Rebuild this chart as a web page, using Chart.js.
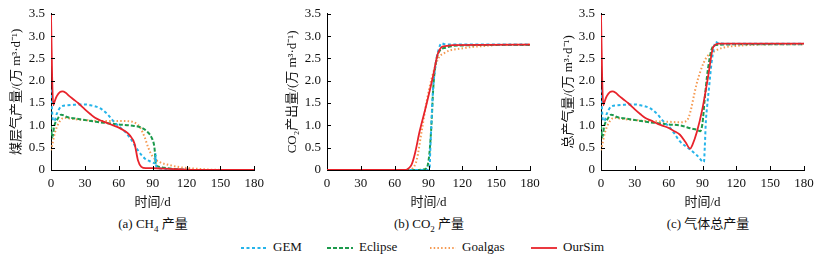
<!DOCTYPE html>
<html><head><meta charset="utf-8">
<script src="https://cdn.jsdelivr.net/npm/chart.js@4"></script>
<style>
body{margin:0;background:#fff;width:828px;height:262px;overflow:hidden;position:relative;font-family:"Liberation Serif","Noto Sans CJK SC",serif;color:#111;}
canvas{position:absolute;top:0;}
.cap{position:absolute;top:213px;font-size:13px;text-align:center;width:200px;white-space:nowrap;}
.cap sub{font-size:9px;}
#legend{position:absolute;top:238px;left:0;width:828px;height:18px;font-size:13px;}
.li{position:absolute;top:0;height:18px;line-height:18px;white-space:nowrap;}
.li svg{vertical-align:middle;margin-right:6px;}
</style></head><body>
<canvas id="c1" style="left:0px" width="270" height="210"></canvas>
<canvas id="c2" style="left:276px" width="270" height="210"></canvas>
<canvas id="c3" style="left:552px" width="272" height="210"></canvas>
<div class="cap" style="left:53px">(a) CH<sub>4</sub> 产量</div>
<div class="cap" style="left:329px">(b) CO<sub>2</sub> 产量</div>
<div class="cap" style="left:608px">(c) 气体总产量</div>
<div id="legend"></div>
<script>
// ---------- tick labels ----------
const xTicks = [0, 30, 60, 90, 120, 150, 180];
const yTicks = [0, 0.5, 1.0, 1.5, 2.0, 2.5, 3.0, 3.5];
const seriesNames = ['GEM', 'Eclipse', 'Goalgas', 'OurSim'];

// ---------- (a) CH4 production ----------
const ch4GemDays = [0,1,2,3,5,9,15,20,25,30,35,40,45,50,55,60,65,70,77,83,89,92,92.7,93.2,96,100,110,130,180];
const ch4GemVals = [1.8,1.3,1.1,1.1,1.25,1.42,1.45,1.46,1.47,1.47,1.45,1.42,1.36,1.25,1.1,0.98,0.87,0.72,0.44,0.26,0.18,0.15,0.36,0.08,0.04,0.02,0.01,0,0];
const ch4EclDays = [0,1,3,6,9,15,20,30,40,50,60,70,80,86,89,91.5,92.3,92.7,96,100,110,130,180];
const ch4EclVals = [1.0,0.73,1.0,1.15,1.24,1.18,1.16,1.12,1.08,1.05,1.02,1.0,0.95,0.84,0.73,0.52,0.3,0.12,0.07,0.05,0.02,0,0];
const ch4GoaDays = [0,1,3.5,8,12,20,30,40,50,60,70,75,79,83,86,90,96,105,115,123,140,160,180];
const ch4GoaVals = [0.44,0.55,0.84,1.1,1.17,1.14,1.12,1.1,1.1,1.1,1.09,1.05,0.95,0.73,0.51,0.3,0.18,0.11,0.06,0.04,0.01,0,0];
const ch4OurDays = [0,1,2,3,5,8,10,13,16,20,24,30,35,39,45,50,55,60,65,70,74,77,80,84,90,100,110,120,140,180];
const ch4OurVals = [3.5,2.1,1.45,1.52,1.65,1.75,1.76,1.73,1.66,1.58,1.5,1.36,1.25,1.17,1.1,1.05,1.0,0.95,0.88,0.77,0.59,0.22,0.07,0.04,0.04,0.03,0.02,0.01,0,0];

// ---------- (b) CO2 production ----------
const co2GemDays = [0,90,91,91.5,92.5,94,96.5,99,101.5,104,110,120,180];
const co2GemVals = [0,0,0.05,0.4,1.0,1.8,2.4,2.7,2.84,2.82,2.81,2.81,2.81];
const co2EclDays = [0,80,85,88.4,90,91.3,92.8,94.2,96.6,100.2,105,112,120,140,180];
const co2EclVals = [0,0,0.01,0.04,0.2,0.51,1.1,1.83,2.42,2.68,2.74,2.78,2.79,2.8,2.8];
const co2GoaDays = [0,72,76,79.5,84,88.4,92.8,98.7,104,109,118,130,140,150,180];
const co2GoaVals = [0,0,0.04,0.22,0.88,1.54,2.05,2.5,2.62,2.68,2.72,2.76,2.78,2.8,2.81];
const co2OurDays = [0,70,72,75,78,82,88,94,98,100,102,106,111,180];
const co2OurVals = [0,0,0.03,0.12,0.37,0.85,1.45,2.1,2.58,2.7,2.76,2.78,2.8,2.81];

// ---------- (c) total gas production ----------
const totGemDays = [0,1,2,3,5,9,15,20,25,30,35,40,45,50,55,60,65,70,79,85,91.3,92,93,94,96,98,100,101.5,104,110,180];
const totGemVals = [1.8,1.3,1.1,1.1,1.25,1.42,1.45,1.46,1.47,1.47,1.45,1.42,1.36,1.25,1.1,0.98,0.82,0.64,0.46,0.33,0.18,0.5,1.1,1.4,1.9,2.4,2.72,2.87,2.84,2.83,2.83];
const totEclDays = [0,1,3,6,9,15,20,30,40,50,60,70,80,85,88,90,92,94,96,98,102,110,120,180];
const totEclVals = [1.0,0.73,1.0,1.15,1.24,1.18,1.16,1.12,1.08,1.05,1.02,1.0,0.93,0.9,0.87,1.05,1.6,2.1,2.45,2.7,2.8,2.81,2.82,2.82];
const totGoaDays = [0,1,3.5,8,12,20,30,40,50,60,70,76,78,80,82,85,88,91,94,100,108,120,140,180];
const totGoaVals = [0.44,0.55,0.84,1.1,1.17,1.14,1.12,1.1,1.09,1.08,1.07,1.1,1.2,1.38,1.62,1.95,2.2,2.4,2.54,2.65,2.74,2.78,2.81,2.82];
const totOurDays = [0,1,2,3,5,8,10,13,16,20,24,30,35,39,45,50,55,60,65,70,75,79,81,85,90,95,99,101,104,110,180];
const totOurVals = [3.5,2.1,1.45,1.52,1.65,1.75,1.76,1.73,1.66,1.58,1.5,1.36,1.25,1.17,1.1,1.04,0.99,0.94,0.87,0.79,0.62,0.48,0.56,0.85,1.38,2.1,2.72,2.8,2.83,2.83,2.83];

// ---------- styles ----------
const styles = {
  GEM:     {color:'#25b4ea', dash:[3,2.5], width:2},
  Eclipse: {color:'#1c9a4c', dash:[4,2],   width:2},
  Goalgas: {color:'#f59a52', dash:[1.5,2.2], width:2},
  OurSim:  {color:'#e8232b', dash:[],      width:1.8}
};
const FONT = '"Liberation Serif", "Noto Sans CJK SC", serif';

function pts(d, v){ return d.map((x,i)=>({x:x, y:v[i]})); }

function ds(name, d, v, order){
  const s = styles[name];
  return {label:name, data:pts(d,v), borderColor:s.color, backgroundColor:s.color,
    borderDash:s.dash, borderWidth:s.width, pointRadius:0, fill:false,
    cubicInterpolationMode:'monotone', order:order};
}

const innerTicks = {
  id:'innerTicks',
  afterDraw(chart){
    const c = chart.ctx, xs = chart.scales.x, ys = chart.scales.y;
    c.save(); c.strokeStyle = '#000'; c.lineWidth = 1;
    xTicks.forEach(t=>{ if(t===0) return; const px = Math.round(xs.getPixelForValue(t))+0.5;
      c.beginPath(); c.moveTo(px, ys.bottom); c.lineTo(px, ys.bottom-4); c.stroke(); });
    yTicks.forEach(t=>{ if(t===0) return; const py = Math.round(ys.getPixelForValue(t))+0.5;
      c.beginPath(); c.moveTo(xs.left, py); c.lineTo(xs.left+4, py); c.stroke(); });
    c.restore();
  }
};

function makeChart(id, sets, yTitle, yWidth, rightPad){
  new Chart(document.getElementById(id), {
    type:'line',
    data:{datasets:sets},
    options:{
      responsive:false, animation:false, events:[],
      layout:{padding:{top:11, right:rightPad, left:0, bottom:0}},
      plugins:{legend:{display:false}, tooltip:{enabled:false}},
      scales:{
        x:{type:'linear', min:0, max:180,
          afterBuildTicks(s){ s.ticks = xTicks.map(v=>({value:v})); },
          afterFit(s){ s.height = 40; },
          grid:{display:false, drawTicks:false},
          border:{display:true, color:'#000', width:1},
          ticks:{padding:6, color:'#111', font:{family:FONT, size:13}, maxRotation:0, autoSkip:false},
          title:{display:true, text:'时间/d', color:'#111', font:{family:FONT, size:13}, padding:{top:0,bottom:0}}
        },
        y:{type:'linear', min:0, max:3.5,
          afterBuildTicks(s){ s.ticks = yTicks.map(v=>({value:v})); },
          afterFit(s){ s.width = yWidth; },
          grid:{display:false, drawTicks:false},
          border:{display:true, color:'#000', width:1},
          ticks:{padding:6, color:'#111', font:{family:FONT, size:13},
            callback:(v)=> v===0 ? '0' : Number(v).toFixed(1)},
          title:{display:true, text:yTitle, color:'#111', font:{family:FONT, size:13}, padding:{top:9,bottom:0}}
        }
      }
    },
    plugins:[innerTicks]
  });
}

makeChart('c1', [
  ds('OurSim', ch4OurDays, ch4OurVals, 0),
  ds('GEM', ch4GemDays, ch4GemVals, 1),
  ds('Eclipse', ch4EclDays, ch4EclVals, 2),
  ds('Goalgas', ch4GoaDays, ch4GoaVals, 3)
], '煤层气产量/(万 m³·d⁻¹)', 51, 15);

makeChart('c2', [
  ds('OurSim', co2OurDays, co2OurVals, 0),
  ds('GEM', co2GemDays, co2GemVals, 1),
  ds('Eclipse', co2EclDays, co2EclVals, 2),
  ds('Goalgas', co2GoaDays, co2GoaVals, 3)
], 'CO₂产出量/(万 m³·d⁻¹)', 51, 16);

makeChart('c3', [
  ds('OurSim', totOurDays, totOurVals, 0),
  ds('GEM', totGemDays, totGemVals, 1),
  ds('Eclipse', totEclDays, totEclVals, 2),
  ds('Goalgas', totGoaDays, totGoaVals, 3)
], '总产气量/(万 m³·d⁻¹)', 49, 20);

// ---------- legend ----------
const legendX = [241, 327, 430, 531];
const lg = document.getElementById('legend');
seriesNames.forEach((n,i)=>{
  const s = styles[n];
  const el = document.createElement('div');
  el.className = 'li'; el.style.left = legendX[i] + 'px';
  el.innerHTML = '<svg width="26" height="6"><line x1="0" y1="3" x2="26" y2="3" stroke="'+s.color+
    '" stroke-width="'+s.width+'" stroke-dasharray="'+(s.dash.length? s.dash.join(','):'none')+'"/></svg>' + n;
  lg.appendChild(el);
});
</script>
</body></html>
